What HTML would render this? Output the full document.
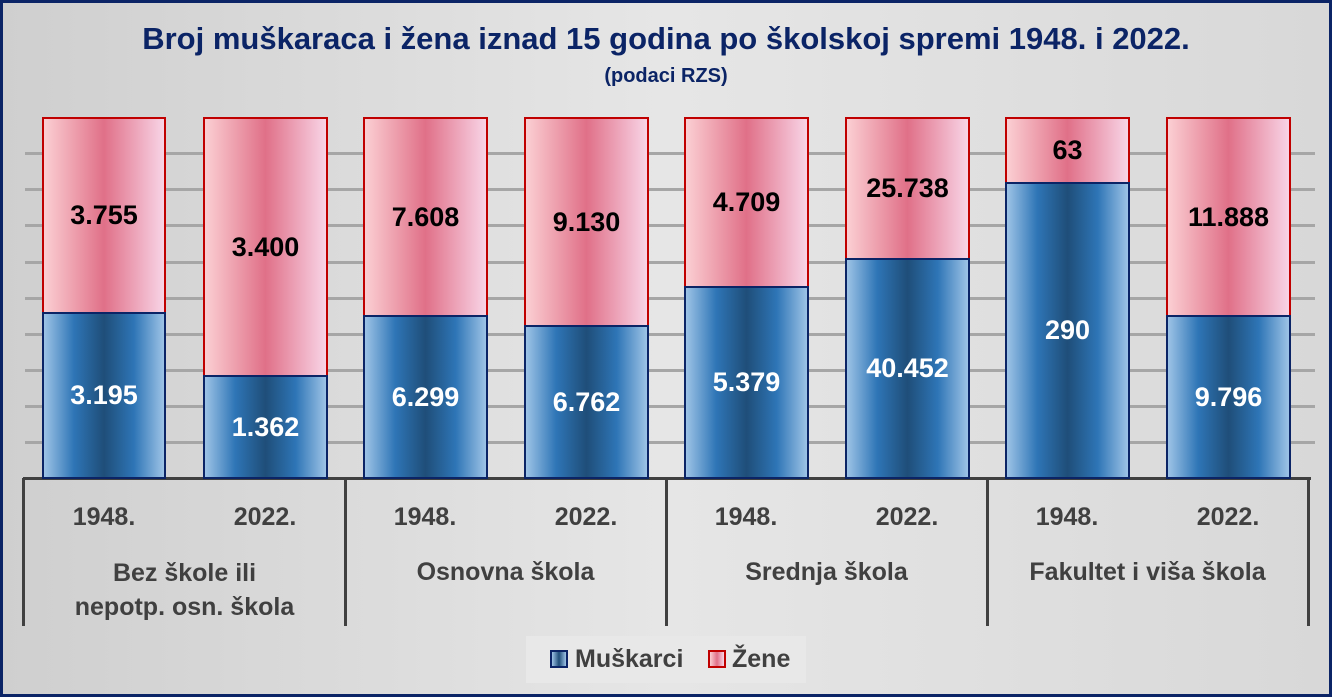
<!DOCTYPE html>
<html><head><meta charset="utf-8"><style>
body{margin:0;width:1332px;height:697px;overflow:hidden;font-family:"Liberation Sans",sans-serif}
#c{position:absolute;left:0;top:0;width:1326px;height:691px;border:3px solid #0b2466;background:linear-gradient(90deg,#cfcfcf,#e6e6e6 50%,#d8d8d8)}
.a{position:absolute}
.g{position:absolute;left:25px;width:1290px;height:3px;background:#a6a6a6}
.b{position:absolute;box-sizing:border-box;border:2px solid #0b2466;background:linear-gradient(90deg,#9dc3e6,#2e75b6 25%,#1f4e79 50%,#2e75b6 75%,#9dc3e6);color:#fff;font-weight:bold;font-size:27px;display:flex;align-items:center;justify-content:center}
.r{position:absolute;box-sizing:border-box;border:2px solid #c00000;background:linear-gradient(90deg,#fbcfd3,#e07088 50%,#f8d4e6);color:#000;font-weight:bold;font-size:27px;display:flex;align-items:center;justify-content:center}
.t{position:absolute;font-weight:bold;font-size:25px;color:#404040;text-align:center}
.s{position:absolute;top:478px;width:3px;height:148px;background:#404040}
</style></head><body><div id="c"></div>
<div class="a" style="left:0;width:1332px;top:21px;text-align:center;font-weight:bold;font-size:31px;color:#0b2466">Broj muškaraca i žena iznad 15 godina po školskoj spremi 1948. i 2022.</div>
<div class="a" style="left:0;width:1332px;top:65px;text-align:center;font-weight:bold;font-size:20px;color:#0b2466">(podaci RZS)</div>
<div class="g" style="top:152px"></div><div class="g" style="top:188px"></div><div class="g" style="top:224px"></div><div class="g" style="top:261px"></div><div class="g" style="top:297px"></div><div class="g" style="top:333px"></div><div class="g" style="top:369px"></div><div class="g" style="top:405px"></div><div class="g" style="top:441px"></div>
<div class="a" style="left:23px;top:477px;width:1288px;height:3px;background:#404040"></div>
<div class="s" style="left:22px"></div><div class="s" style="left:344px"></div><div class="s" style="left:665px"></div><div class="s" style="left:986px"></div><div class="s" style="left:1307px"></div>

<div class="r" style="left:42px;top:117px;width:124px;height:197px">3.755</div><div class="b" style="left:42px;top:312px;width:124px;height:167px">3.195</div>
<div class="r" style="left:203px;top:117px;width:125px;height:260px">3.400</div><div class="b" style="left:203px;top:375px;width:125px;height:104px">1.362</div>
<div class="r" style="left:363px;top:117px;width:125px;height:200px">7.608</div><div class="b" style="left:363px;top:315px;width:125px;height:164px">6.299</div>
<div class="r" style="left:524px;top:117px;width:125px;height:210px">9.130</div><div class="b" style="left:524px;top:325px;width:125px;height:154px">6.762</div>
<div class="r" style="left:684px;top:117px;width:125px;height:171px">4.709</div><div class="b" style="left:684px;top:286px;width:125px;height:193px">5.379</div>
<div class="r" style="left:845px;top:117px;width:125px;height:143px">25.738</div><div class="b" style="left:845px;top:258px;width:125px;height:221px">40.452</div>
<div class="r" style="left:1005px;top:117px;width:125px;height:67px">63</div><div class="b" style="left:1005px;top:182px;width:125px;height:297px">290</div>
<div class="r" style="left:1166px;top:117px;width:125px;height:200px">11.888</div><div class="b" style="left:1166px;top:315px;width:125px;height:164px">9.796</div>

<div class="t" style="left:44px;width:120px;top:503px">1948.</div><div class="t" style="left:205px;width:120px;top:503px">2022.</div>
<div class="t" style="left:365px;width:120px;top:503px">1948.</div><div class="t" style="left:526px;width:120px;top:503px">2022.</div>
<div class="t" style="left:686px;width:120px;top:503px">1948.</div><div class="t" style="left:847px;width:120px;top:503px">2022.</div>
<div class="t" style="left:1007px;width:120px;top:503px">1948.</div><div class="t" style="left:1168px;width:120px;top:503px">2022.</div>
<div class="t" style="left:24px;width:321px;top:556px;line-height:34px">Bez škole ili<br>nepotp. osn. škola</div>
<div class="t" style="left:345px;width:321px;top:558px;line-height:28px">Osnovna škola</div>
<div class="t" style="left:666px;width:321px;top:558px;line-height:28px">Srednja škola</div>
<div class="t" style="left:987px;width:321px;top:558px;line-height:28px">Fakultet i viša škola</div>

<div class="a" style="left:526px;top:636px;width:280px;height:47px;background:#e8e8e8"></div>
<div class="a" style="left:550px;top:650px;width:14px;height:14px;border:2px solid #0b2466;background:linear-gradient(90deg,#9dc3e6,#1f4e79,#9dc3e6)"></div>
<div class="t" style="left:575px;top:645px;font-size:25px">Muškarci</div>
<div class="a" style="left:708px;top:650px;width:14px;height:14px;border:2px solid #c00000;background:linear-gradient(90deg,#fbcfd3,#e07088,#f8d4e6)"></div>
<div class="t" style="left:732px;top:645px;font-size:25px">Žene</div>
</body></html>
